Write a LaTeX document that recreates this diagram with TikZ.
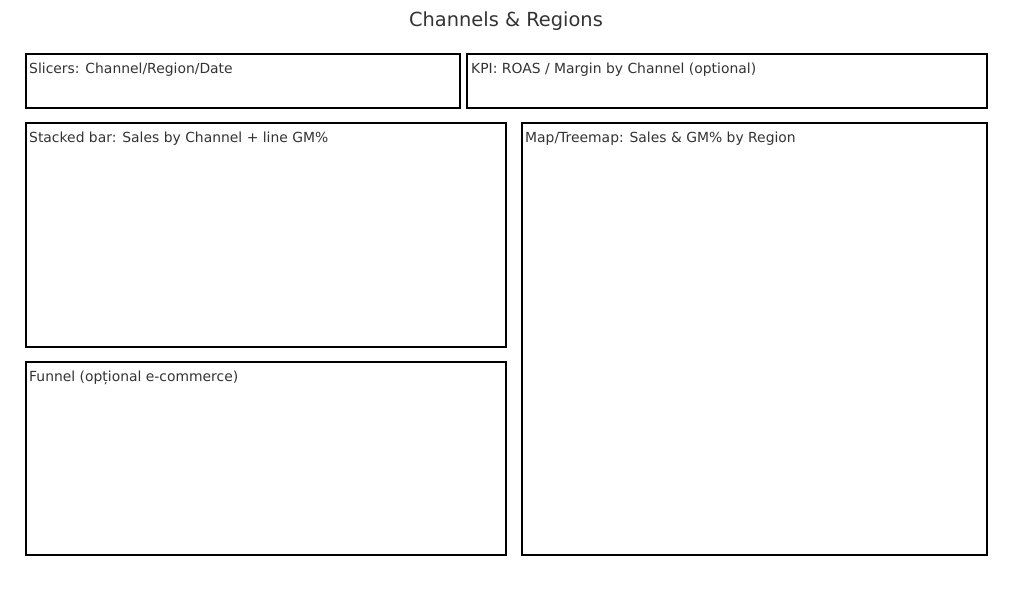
\documentclass[tikz,border=0pt]{standalone}
\usepackage{fontspec}
\setmainfont{DejaVu Sans}
\usetikzlibrary{positioning}
\definecolor{textgray}{HTML}{333333}
\tikzset{
  panel/.style={draw=black, line width=2.2pt},
  paneltext/.style={anchor=base west, inner sep=0pt, text=textgray, font=\fontsize{13.9}{16}\selectfont},
}
\begin{document}
\begin{tikzpicture}[x=1pt, y=-1pt]
\useasboundingbox (0,0) rectangle (1011,603);
% Titlu
\node[anchor=base, inner sep=0pt, text=textgray, font=\fontsize{19.4}{22}\selectfont] (title) at (506,26) {Channels \& Regions};
% Rand de sus
\draw[panel] (26,54) rectangle (460,108);
\node[paneltext] (slicers) at (29,73) {Slicers: Channel/Region/Date};
\draw[panel] (467,54) rectangle (987,108);
\node[paneltext] (kpi) at (471,73) {KPI: ROAS / Margin by Channel (optional)};
% Stanga
\draw[panel] (26,123) rectangle (506,347);
\node[paneltext] (stacked) at (29,142) {Stacked bar: Sales by Channel + line GM\%};
\draw[panel] (26,362) rectangle (506,555);
\node[paneltext] (funnel) at (29,381) {Funnel (opțional e-commerce)};
% Dreapta
\draw[panel] (522,123) rectangle (987,555);
\node[paneltext] (map) at (525,142) {Map/Treemap: Sales \& GM\% by Region};
\end{tikzpicture}
\end{document}
